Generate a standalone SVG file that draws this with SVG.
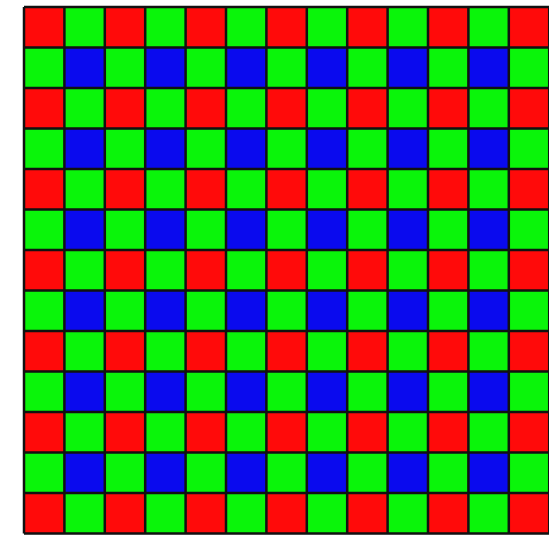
<svg xmlns="http://www.w3.org/2000/svg" width="549" height="535" viewBox="0 0 549 535">
  <defs>
    <pattern id="bayer" patternUnits="userSpaceOnUse" x="24" y="7" width="80.8" height="81">
      <rect x="0" y="0" width="40.4" height="40.5" fill="#ff0a0a"/>
      <rect x="40.4" y="0" width="40.4" height="40.5" fill="#0af50a"/>
      <rect x="0" y="40.5" width="40.4" height="40.5" fill="#0af50a"/>
      <rect x="40.4" y="40.5" width="40.4" height="40.5" fill="#0a0aee"/>
    </pattern>
    <style>
      .grid { stroke: #111; stroke-width: 2.5; fill: none; }
    </style>
  </defs>
  <rect x="0" y="0" width="549" height="535" fill="#ffffff"/>
  <rect x="24" y="7" width="525.2" height="526.5" fill="url(#bayer)"/>
  <path class="grid" d="
    M24,7 V533.5 M64.4,7 V533.5 M104.8,7 V533.5 M145.2,7 V533.5 M185.6,7 V533.5 M226,7 V533.5 M266.4,7 V533.5 M306.8,7 V533.5 M347.2,7 V533.5 M387.6,7 V533.5 M428,7 V533.5 M468.4,7 V533.5 M508.8,7 V533.5 M549.2,7 V533.5
    M24,7 H549.2 M24,47.5 H549.2 M24,88 H549.2 M24,128.5 H549.2 M24,169 H549.2 M24,209.5 H549.2 M24,250 H549.2 M24,290.5 H549.2 M24,331 H549.2 M24,371.5 H549.2 M24,412 H549.2 M24,452.5 H549.2 M24,493 H549.2 M24,533.5 H549.2"/>
</svg>
